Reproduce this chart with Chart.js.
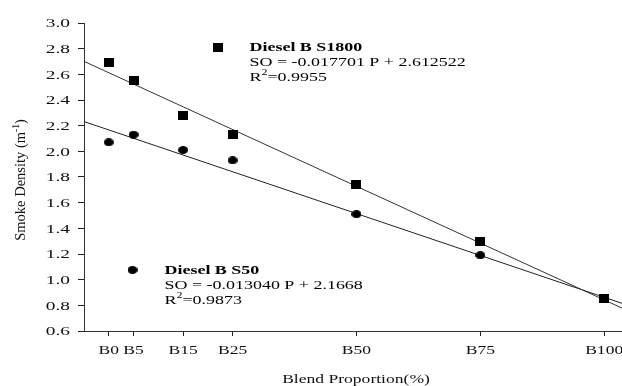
<!DOCTYPE html>
<html>
<head>
<meta charset="utf-8">
<script src="https://cdn.jsdelivr.net/npm/chart.js@4.4.1/dist/chart.umd.min.js"></script>
<style>
  html, body { margin: 0; padding: 0; background: #fff; }
</style>
</head>
<body>
<canvas id="smoke-chart" width="622" height="386"></canvas>
<script>
// blend proportions (% biodiesel) and their tick labels
const blendLevels = [0, 5, 15, 25, 50, 75, 100];
const blendLabels = ['B0', 'B5', 'B15', 'B25', 'B50', 'B75', 'B100'];

// smoke density (m-1)
const smokeS1800 = [2.69, 2.55, 2.28, 2.13, 1.74, 1.30, 0.85];
const smokeS50 = [2.07, 2.13, 2.01, 1.93, 1.51, 1.19, 0.85];

const yTicks = [0.6, 0.8, 1.0, 1.2, 1.4, 1.6, 1.8, 2.0, 2.2, 2.4, 2.6, 2.8, 3.0];
const xRange = [-5, 103.6];

// regression lines as printed on the chart
const seriesNames = ['Diesel B S1800', 'Diesel B S50'];
const fitSlopes = [-0.017701, -0.013040];
const fitIntercepts = [2.612522, 2.1668];
const fitEquations = ['SO = -0.017701 P + 2.612522', 'SO = -0.013040 P + 2.1668'];
const fitR2 = ['=0.9955', '=0.9873'];

const SERIF = '"Liberation Serif", "Times New Roman", serif';
const SX = 1.33; // the picture is stretched sideways

function makeMarker(w, h, shape) {
  const c = document.createElement('canvas');
  c.width = w;
  c.height = h;
  const g = c.getContext('2d');
  g.fillStyle = '#000';
  if (shape === 'square') {
    g.fillRect(0, 0, w, h);
  } else {
    g.beginPath();
    g.ellipse(w / 2, h / 2, w / 2, h / 2, 0, 0, Math.PI * 2);
    g.fill();
  }
  return c;
}
const squareMark = makeMarker(10, 9, 'square');
const dotMark = makeMarker(10, 8, 'dot');

function fitLine(i) {
  return xRange.map(x => ({ x: x, y: fitIntercepts[i] + fitSlopes[i] * x }));
}

function textS(ctx, str, x, y, font, sx, align) {
  ctx.save();
  ctx.font = font;
  ctx.textAlign = align || 'left';
  ctx.translate(x, y);
  ctx.scale(sx, 1);
  ctx.fillText(str, 0, 0);
  const w = ctx.measureText(str).width * sx;
  ctx.restore();
  return w;
}

function drawLegendBlock(ctx, i, mark, mx, my, tx, y0, dy) {
  ctx.drawImage(mark, mx - mark.width / 2, my - mark.height / 2);
  textS(ctx, seriesNames[i], tx, y0, 'bold 13.5px ' + SERIF, SX);
  textS(ctx, fitEquations[i], tx, y0 + dy, '13.5px ' + SERIF, SX);
  let x = tx;
  x += textS(ctx, 'R', x, y0 + 2 * dy, '13.5px ' + SERIF, SX);
  x += textS(ctx, '2', x, y0 + 2 * dy - 6, '9px ' + SERIF, SX);
  textS(ctx, fitR2[i], x, y0 + 2 * dy, '13.5px ' + SERIF, SX);
}

const textPlugin = {
  id: 'textPlugin',
  afterDraw(chart) {
    const ctx = chart.ctx;
    const area = chart.chartArea;
    const xs = chart.scales.x;
    const ys = chart.scales.y;
    ctx.save();
    ctx.fillStyle = '#111';
    ctx.textBaseline = 'alphabetic';

    // y tick labels
    yTicks.forEach(v => {
      textS(ctx, v.toFixed(1), 70, ys.getPixelForValue(v) + 4.3, '12.5px ' + SERIF, 1.55, 'right');
    });
    // x tick labels
    blendLevels.forEach((v, i) => {
      textS(ctx, blendLabels[i], xs.getPixelForValue(v), 354, '13.5px ' + SERIF, 1.3, 'center');
    });
    // x title
    textS(ctx, 'Blend Proportion(%)', (area.left + area.right) / 2 + 3, 383, '13.5px ' + SERIF, 1.3, 'center');

    // y title with superscript
    ctx.save();
    ctx.translate(25, (area.top + area.bottom) / 2 + 3);
    ctx.rotate(-Math.PI / 2);
    ctx.font = '14.5px ' + SERIF;
    const a = 'Smoke Density (m', c = ')';
    const wa = ctx.measureText(a).width;
    const wc = ctx.measureText(c).width;
    ctx.font = '9.5px ' + SERIF;
    const wb = ctx.measureText('-1').width;
    let x = -(wa + wb + wc) / 2;
    ctx.font = '14.5px ' + SERIF;
    ctx.fillText(a, x, 0);
    ctx.font = '9.5px ' + SERIF;
    ctx.fillText('-1', x + wa, -6);
    ctx.font = '14.5px ' + SERIF;
    ctx.fillText(c, x + wa + wb, 0);
    ctx.restore();

    // in-plot legends
    ctx.fillStyle = '#000';
    drawLegendBlock(ctx, 0, squareMark, 218, 47.5, 249.5, 51, 15);
    drawLegendBlock(ctx, 1, dotMark, 132.5, 270, 164.5, 274, 15);
    ctx.restore();
  }
};

const axisGrid = { display: true, drawOnChartArea: false, drawTicks: true, color: '#222', lineWidth: 1 };

new Chart(document.getElementById('smoke-chart'), {
  type: 'scatter',
  data: {
    datasets: [
      {
        label: seriesNames[0],
        data: blendLevels.map((x, i) => ({ x: x, y: smokeS1800[i] })),
        pointStyle: squareMark,
        pointRadius: 5,
        showLine: false
      },
      {
        label: seriesNames[1],
        data: blendLevels.map((x, i) => ({ x: x, y: smokeS50[i] })),
        pointStyle: dotMark,
        pointRadius: 5,
        showLine: false
      },
      {
        label: 'fit S1800',
        data: fitLine(0),
        showLine: true,
        borderColor: '#333',
        borderWidth: 1,
        pointRadius: 0
      },
      {
        label: 'fit S50',
        data: fitLine(1),
        showLine: true,
        borderColor: '#222',
        borderWidth: 1,
        pointRadius: 0
      }
    ]
  },
  options: {
    responsive: false,
    animation: false,
    devicePixelRatio: 1,
    layout: { autoPadding: false, padding: { top: 23, right: 0, left: 0, bottom: 0 } },
    plugins: {
      legend: { display: false },
      tooltip: { enabled: false }
    },
    scales: {
      x: {
        type: 'linear',
        min: xRange[0],
        max: xRange[1],
        afterBuildTicks: s => { s.ticks = blendLevels.map(v => ({ value: v })); },
        afterFit: s => { s.height = 55; },
        ticks: { display: false },
        grid: Object.assign({}, axisGrid, { tickLength: 5 }),
        border: { display: true, color: '#333', width: 1 }
      },
      y: {
        type: 'linear',
        min: 0.6,
        max: 3.0,
        afterBuildTicks: s => { s.ticks = yTicks.map(v => ({ value: v })); },
        afterFit: s => { s.width = 84; },
        ticks: { display: false },
        grid: Object.assign({}, axisGrid, { tickLength: 6 }),
        border: { display: true, color: '#333', width: 1 }
      }
    }
  },
  plugins: [textPlugin]
});
</script>
</body>
</html>
